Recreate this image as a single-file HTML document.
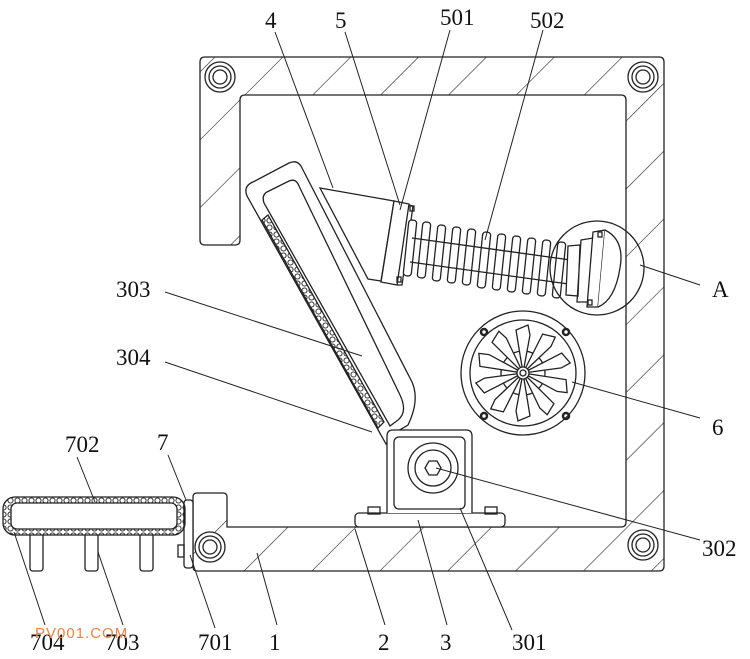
<!DOCTYPE html>
<html><head><meta charset="utf-8"><style>
html,body{margin:0;padding:0;background:#fff}
svg{display:block}
text{font-family:"Liberation Serif","Noto Serif CJK SC",serif;font-size:23px;fill:#111}
</style></head><body>
<svg width="750" height="659" viewBox="0 0 750 659" xmlns="http://www.w3.org/2000/svg">
<defs>
<pattern id="h" patternUnits="userSpaceOnUse" width="48" height="48" patternTransform="rotate(45)">
<line x1="0" y1="0" x2="0" y2="48" stroke="#222" stroke-width="1.2"/>
</pattern>
<pattern id="bead" patternUnits="userSpaceOnUse" width="7" height="7">
<circle cx="3.5" cy="3.5" r="2.6" fill="none" stroke="#222" stroke-width="0.9"/>
</pattern>
</defs>
<g fill="none" stroke="#222" stroke-width="1.3">
<!-- frame -->
<path d="M205,57 L659,57 Q664,57 664,62 L664,566 Q664,571 659,571 L197,571 Q193,571 193,566 L193,497 Q193,493 197,493 L223,493 Q227,493 227,497 L227,527 L621,527 Q626,527 626,522 L626,100 Q626,95 621,95 L245,95 Q240,95 240,100 L240,240 Q240,245 235,245 L205,245 Q200,245 200,240 L200,62 Q200,57 205,57 Z" fill="url(#h)"/>
<!-- corner bolts -->
<g fill="#fff">
<circle cx="220" cy="77" r="15"/><circle cx="220" cy="77" r="11"/><circle cx="220" cy="77" r="7"/>
<circle cx="643" cy="77" r="15"/><circle cx="643" cy="77" r="11"/><circle cx="643" cy="77" r="7"/>
<circle cx="643" cy="545" r="15"/><circle cx="643" cy="545" r="11"/><circle cx="643" cy="545" r="7"/>
<circle cx="210" cy="547" r="15"/><circle cx="210" cy="547" r="11"/><circle cx="210" cy="547" r="7"/>
</g>
<!-- arm 303 -->
<path d="M247,196 Q243,186 253,182 L289,163 Q298,159 302,168 L412,382 Q420,400 408,425 L393,434 L386,444 Z" fill="#fff"/>
<path d="M264,203 Q261,194 269,191 L289,181 Q296,178 299,186 L400,395 Q408,412 398,420 L390,426 Z"/>
<!-- bead strip 304 -->
<path d="M262,220 L268,215 L384,422 L378,428 Z" fill="url(#bead)"/>
<!-- piston 4 -->
<path d="M320,188 L394,201 L381,281 L368,279 Z" fill="#fff"/>
<path d="M394,201 L409,204 L397,285 L381,282 Z" fill="#fff"/>
<path d="M409,205 L413,206 L402,285 L397,285"/>
<rect x="410" y="206" width="4" height="5"/><rect x="397" y="277" width="4" height="5"/>
<!-- spring 502 -->
<g fill="#fff">
<rect x="406" y="220" width="8" height="56" rx="3" transform="rotate(6 410 248)"/>
<rect x="420" y="222" width="8" height="56" rx="3" transform="rotate(6 424 250)"/>
<rect x="435" y="225" width="8" height="56" rx="3" transform="rotate(6 439 253)"/>
<rect x="450" y="227" width="8" height="56" rx="3" transform="rotate(6 454 255)"/>
<rect x="465" y="229" width="8" height="56" rx="3" transform="rotate(6 469 257)"/>
<rect x="480" y="232" width="8" height="56" rx="3" transform="rotate(6 484 260)"/>
<rect x="495" y="234" width="8" height="56" rx="3" transform="rotate(6 499 262)"/>
<rect x="510" y="236" width="8" height="56" rx="3" transform="rotate(6 514 264)"/>
<rect x="525" y="238" width="8" height="56" rx="3" transform="rotate(6 529 266)"/>
<rect x="540" y="240" width="8" height="56" rx="3" transform="rotate(6 544 268)"/>
<rect x="555" y="242" width="8" height="56" rx="3" transform="rotate(6 559 270)"/>
</g>
<path d="M412,238 L585,262 M410,262 L583,286"/>
<!-- circle A & right plate -->
<circle cx="597" cy="268" r="47"/>
<path d="M568,246 L580,245 L578,296 L566,295 Z M581,240 L593,238 L588,302 L577,302 Z" fill="#fff"/>
<path d="M593,232 L605,230 L598,307 L587,307 Z" fill="#fff"/>
<path d="M605,230 Q625,240 620,268 Q615,300 598,307" fill="#fff"/>
<rect x="598" y="232" width="4" height="5"/><rect x="588" y="300" width="4" height="5"/>
<!-- fan 6 -->
<circle cx="523" cy="373" r="62"/><circle cx="523" cy="373" r="53"/>
<circle cx="523" cy="373" r="22"/>
<g fill="#fff">
<path id="bl" d="M523,373 L516,330 L528,325 L530,335 Z"/>
<use href="#bl" transform="rotate(36 523 373)"/><use href="#bl" transform="rotate(72 523 373)"/>
<use href="#bl" transform="rotate(108 523 373)"/><use href="#bl" transform="rotate(144 523 373)"/>
<use href="#bl" transform="rotate(180 523 373)"/><use href="#bl" transform="rotate(216 523 373)"/>
<use href="#bl" transform="rotate(252 523 373)"/><use href="#bl" transform="rotate(288 523 373)"/>
<use href="#bl" transform="rotate(324 523 373)"/>
</g>
<circle cx="523" cy="373" r="6" fill="#fff"/><circle cx="523" cy="373" r="3"/>
<g stroke-width="2.5"><circle cx="484" cy="332" r="3"/><circle cx="566" cy="332" r="3"/><circle cx="484" cy="416" r="3"/><circle cx="566" cy="416" r="3"/></g>
<!-- base 2 & block 3 -->
<rect x="355" y="513" width="150" height="14" rx="4" fill="#fff"/>
<rect x="368" y="507" width="12" height="7"/><rect x="485" y="507" width="12" height="7"/>
<path d="M387,513 L387,436 Q387,430 393,430 L466,430 Q472,430 472,436 L472,513" fill="#fff"/>
<rect x="394" y="437" width="71" height="72" rx="5"/>
<circle cx="433" cy="468" r="25"/><circle cx="433" cy="468" r="18"/>
<polygon points="425,468 429,461 437,461 441,468 437,475 429,475"/>
<!-- attachment 7 -->
<rect x="184" y="500" width="9" height="68" rx="3" fill="#fff"/>
<rect x="178" y="545" width="6" height="12"/>
<rect x="3" y="497" width="182" height="38" rx="12" fill="url(#bead)"/>
<rect x="11" y="503" width="166" height="26" rx="6" fill="#fff"/>
<path d="M30,535 L30,568 Q30,571 33,571 L40,571 Q43,571 43,568 L43,535 M85,535 L85,568 Q85,571 88,571 L95,571 Q98,571 98,568 L98,535 M140,535 L140,568 Q140,571 143,571 L150,571 Q153,571 153,568 L153,535"/>
</g>
<!-- leaders -->
<g stroke="#222" stroke-width="1">
<line x1="275" y1="32" x2="333" y2="188"/>
<line x1="345" y1="32" x2="400" y2="205"/>
<line x1="450" y1="30" x2="400" y2="210"/>
<line x1="543" y1="30" x2="485" y2="240"/>
<line x1="700" y1="285" x2="640" y2="265"/>
<line x1="165" y1="292" x2="362" y2="356"/>
<line x1="165" y1="362" x2="372" y2="432"/>
<line x1="700" y1="418" x2="572" y2="382"/>
<line x1="700" y1="540" x2="436" y2="468"/>
<line x1="77" y1="457" x2="95" y2="502"/>
<line x1="168" y1="455" x2="186" y2="500"/>
<line x1="45" y1="625" x2="14" y2="532"/>
<line x1="123" y1="625" x2="98" y2="552"/>
<line x1="215" y1="628" x2="190" y2="555"/>
<line x1="277" y1="625" x2="257" y2="553"/>
<line x1="385" y1="625" x2="355" y2="529"/>
<line x1="447" y1="625" x2="418" y2="520"/>
<line x1="512" y1="630" x2="460" y2="508"/>
</g>
<text x="265" y="28">4</text>
<text x="335" y="28">5</text>
<text x="440" y="25">501</text>
<text x="530" y="28">502</text>
<text x="712" y="297">A</text>
<text x="116" y="297">303</text>
<text x="116" y="365">304</text>
<text x="712" y="435">6</text>
<text x="702" y="556">302</text>
<text x="65" y="452">702</text>
<text x="157" y="450">7</text>
<text x="30" y="650">704</text>
<text x="105" y="650">703</text>
<text x="198" y="650">701</text>
<text x="269" y="650">1</text>
<text x="378" y="650">2</text>
<text x="440" y="650">3</text>
<text x="512" y="650">301</text>
<text x="35" y="638" style="font-family:'Liberation Sans',sans-serif;font-size:15px;fill:#e8844a;letter-spacing:1px">PV001.COM</text>
</svg>
</body></html>
